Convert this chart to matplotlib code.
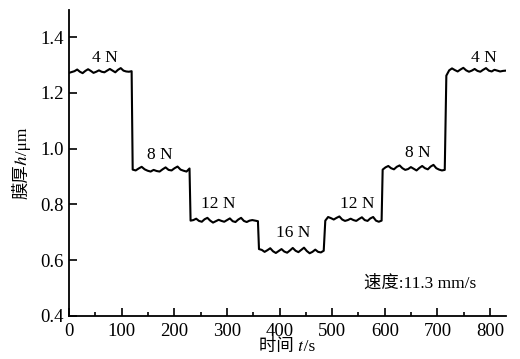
import numpy as np
import matplotlib
matplotlib.use("Agg")
from matplotlib import pyplot as plt
from matplotlib.ticker import MultipleLocator, FormatStrFormatter

# STIXGeneral supplies the italic math letters (U+210E, U+1D461)
plt.rcParams['font.family'] = ['Liberation Serif', 'Noto Sans CJK SC', 'STIXGeneral']

# segments of the film thickness trace: (start s, end s, values)
seg_bounds = [(0, 119), (121, 229), (231, 359), (361, 484),
              (487, 594), (596, 714), (717, 830)]
seg_values = [
    [1.272, 1.275, 1.278, 1.284, 1.276, 1.271, 1.279, 1.285, 1.279, 1.272,
     1.276, 1.281, 1.276, 1.274, 1.280, 1.286, 1.280, 1.274, 1.283, 1.289,
     1.280, 1.277, 1.276, 1.278],
    [0.925, 0.922, 0.929, 0.935, 0.926, 0.921, 0.918, 0.924, 0.920, 0.918,
     0.926, 0.933, 0.924, 0.922, 0.930, 0.936, 0.925, 0.921, 0.918, 0.929],
    [0.742, 0.744, 0.749, 0.741, 0.738, 0.747, 0.752, 0.742, 0.735, 0.740,
     0.745, 0.741, 0.738, 0.744, 0.750, 0.740, 0.737, 0.746, 0.752, 0.741,
     0.737, 0.742, 0.744, 0.742, 0.740],
    [0.640, 0.637, 0.630, 0.636, 0.643, 0.632, 0.626, 0.633, 0.640, 0.631,
     0.627, 0.635, 0.644, 0.634, 0.629, 0.637, 0.645, 0.633, 0.625, 0.630,
     0.638, 0.630, 0.628, 0.634],
    [0.742, 0.755, 0.751, 0.746, 0.752, 0.757, 0.746, 0.741, 0.744, 0.749,
     0.744, 0.741, 0.748, 0.754, 0.744, 0.741, 0.750, 0.755, 0.742, 0.738,
     0.742],
    [0.925, 0.933, 0.938, 0.930, 0.926, 0.935, 0.940, 0.930, 0.924, 0.927,
     0.934, 0.928, 0.922, 0.931, 0.938, 0.930, 0.926, 0.936, 0.942, 0.930,
     0.925, 0.922, 0.924],
    [1.262, 1.281, 1.288, 1.282, 1.277, 1.284, 1.290, 1.281, 1.276, 1.280,
     1.286, 1.279, 1.276, 1.283, 1.289, 1.280, 1.277, 1.283, 1.280, 1.277,
     1.279, 1.280],
]

load_labels = ["4 N", "8 N", "12 N", "16 N", "12 N", "8 N", "4 N"]
label_x = [68, 173, 283, 426, 547, 663, 789]
label_y = [1.325, 0.978, 0.800, 0.697, 0.800, 0.984, 1.325]

speed_text = "速度:11.3 mm/s"
xlabel = "时间 \U0001D461/s"
ylabel = "膜厚\u210E/μm"

t_all, h_all = [], []
for (t0, t1), vals in zip(seg_bounds, seg_values):
    t_all.extend(np.linspace(t0, t1, len(vals)))
    h_all.extend(vals)

fig = plt.figure(figsize=(5.2, 3.59), dpi=100)
ax = fig.add_axes([0.1327, 0.1198, 0.840, 0.852])

ax.plot(t_all, h_all, color='black', lw=1.5)

for lab, x, y in zip(load_labels, label_x, label_y):
    ax.text(x, y, lab, ha='center', va='center', fontsize=12.5)

ax.text(667, 0.515, speed_text, ha='center', va='center', fontsize=12.5)

ax.set_xlim(0, 830)
ax.set_ylim(0.4, 1.497)
ax.xaxis.set_major_locator(MultipleLocator(100))
ax.xaxis.set_minor_locator(MultipleLocator(50))
ax.yaxis.set_major_locator(MultipleLocator(0.2))
ax.yaxis.set_major_formatter(FormatStrFormatter('%.1f'))
ax.tick_params(which='both', direction='in', labelsize=13.5, width=1.2)
ax.tick_params(which='major', length=6)
ax.tick_params(which='minor', length=3)
ax.tick_params(axis='x', which='major', pad=5)
ax.tick_params(axis='y', which='major', pad=4)
ax.spines['top'].set_visible(False)
ax.spines['right'].set_visible(False)
for s in ['left', 'bottom']:
    ax.spines[s].set_linewidth(1.3)

ax.set_xlabel(xlabel, fontsize=12.5, labelpad=-1)
ax.set_ylabel(ylabel, fontsize=12.5, labelpad=7)

fig.savefig("out.png", dpi=100)
